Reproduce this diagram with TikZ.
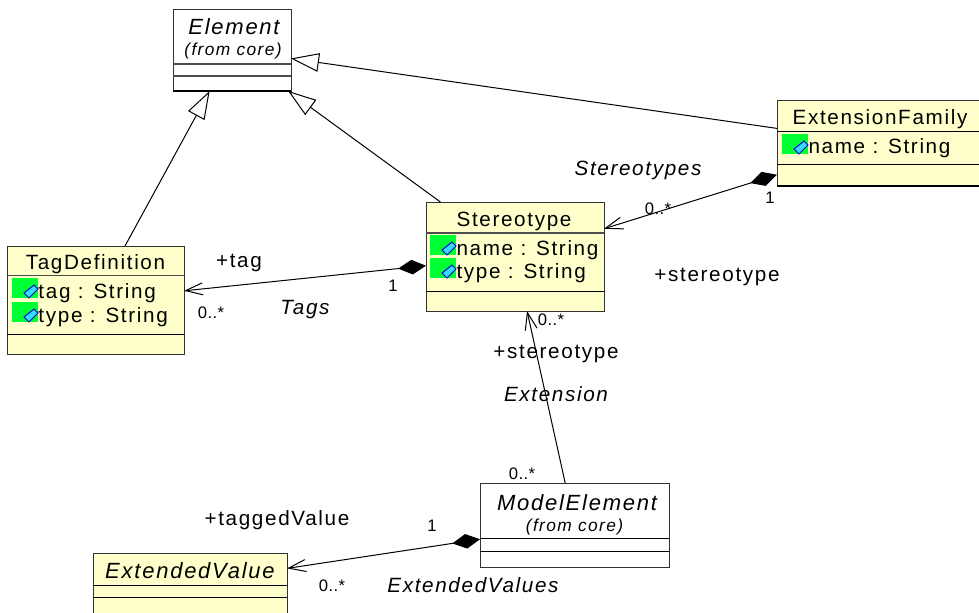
\documentclass[tikz,border=0pt]{standalone}
\usepackage{fontspec}
\setmainfont[LetterSpace=8]{Liberation Sans}
\usetikzlibrary{arrows.meta}
\definecolor{classfill}{HTML}{FFFFCC}
\definecolor{attrgreen}{HTML}{00FF33}
\definecolor{attrblue}{HTML}{33DDFF}
\begin{document}
\begin{tikzpicture}[x=0.75pt,y=-0.75pt,line width=0.75pt,
    classbox/.style = {draw=black!80, fill=classfill, rectangle, outer sep=0pt, inner sep=0pt},
    refbox/.style = {draw=black!80, fill=white, rectangle, outer sep=0pt, inner sep=0pt},
    classname/.style = {font=\fontsize{15.5}{17}\selectfont, inner sep=0pt},
    iname/.style = {font=\fontsize{15.5}{17}\selectfont\itshape, inner sep=0pt},
    iclass/.style = {font=\fontsize{16.5}{18}\selectfont\itshape, inner sep=0pt},
    fromname/.style = {font=\fontsize{13}{15}\selectfont\itshape, inner sep=0pt},
    attrtext/.style = {font=\fontsize{15.5}{17}\selectfont, inner sep=0pt, anchor=west},
    roletext/.style = {font=\fontsize{15.5}{17}\selectfont, inner sep=0pt},
    multtext/.style = {font=\addfontfeatures{LetterSpace=2}\fontsize{12.5}{14}\selectfont, inner sep=0pt},
    inherit/.style = {-{Triangle[open,length=21pt,width=14pt]}},
    compose/.style = {{Diamond[length=21pt,width=11pt]}-{Straight Barb[length=13pt,width=9pt]}},
    attricon/.pic = {
        \fill[attrgreen] (0,0) rectangle (26,20);
        \draw[blue!80!black,fill=attrblue,line width=0.75pt] (12,15) -- (22,7) -- (26,11) -- (17,20) -- cycle;
    }]
    \useasboundingbox (0,0) rectangle (979,612);

    % classes
    \node[refbox, minimum width=88.5pt, minimum height=61.5pt] (element) at (232,50) {};
    \node[classbox, minimum width=132.75pt, minimum height=81pt] (tagdef) at (95.5,300) {};
    \node[classbox, minimum width=133.5pt, minimum height=81.75pt] (stereotype) at (515,256.5) {};
    \node[classbox, minimum width=153pt, minimum height=64.5pt] (family) at (879,143) {};
    \node[refbox, minimum width=141.75pt, minimum height=63pt] (modelelement) at (574.5,525) {};
    \node[classbox, minimum width=145.5pt, minimum height=45pt] (extvalue) at (190,583) {};

    % compartments
    \draw[black!70,line width=1pt] (element.north west) ++(0,55) -- ++(118,0);
    \draw[black!70,line width=1pt] (element.north west) ++(0,67) -- ++(118,0);
    \draw[black,line width=1.5pt] (element.south west) -- (element.south east);
    \draw[black!70] (tagdef.north west) ++(0,29) -- ++(177,0);
    \draw (tagdef.north west) ++(0,88) -- ++(177,0);
    \draw[black!70,line width=1.2pt] (stereotype.north west) ++(0,31) -- ++(178,0);
    \draw (stereotype.north west) ++(0,89) -- ++(178,0);
    \draw (family.north west) ++(0,31) -- ++(204,0);
    \draw (family.north west) ++(0,64) -- ++(204,0);
    \draw[black,line width=1.5pt] (family.south west) -- (family.south east);
    \draw (modelelement.north west) ++(0,55) -- ++(189,0);
    \draw (modelelement.north west) ++(0,68) -- ++(189,0);
    \draw (extvalue.north west) ++(0,32) -- ++(194,0);
    \draw (extvalue.north west) ++(0,44) -- ++(194,0);

    % class names
    \node[iclass] (elementname) at (234,27) {Element};
    \node[fromname] (elementfrom) at (233,51) {(from core)};
    \node[classname] (tagdefname) at (95.5,264) {TagDefinition};
    \node[classname] (stereotypename) at (514,221) {Stereotype};
    \node[classname] (familyname) at (880,119) {ExtensionFamily};
    \node[iclass] (modelelementname) at (577,503) {ModelElement};
    \node[fromname] (modelelementfrom) at (574.5,527) {(from core)};
    \node[iclass] (extvaluename) at (190,571) {ExtendedValue};

    % attributes
    \pic at (12,278) {attricon};
    \pic at (12,302) {attricon};
    \pic at (430,235) {attricon};
    \pic at (430,258) {attricon};
    \pic at (782,134) {attricon};
    \node[attrtext] (tagattr) at (38,293) {tag : String};
    \node[attrtext] (typeattr) at (38,317) {type : String};
    \node[attrtext] (nameattr) at (456,250) {name : String};
    \node[attrtext] (typeattrb) at (456,273) {type : String};
    \node[attrtext] (nameattrb) at (808,148) {name : String};

    % connectors
    \draw[inherit] (tagdef) -- (element);
    \draw[inherit] (stereotype) -- (element);
    \draw[inherit] (family) -- (element);
    \draw[compose] (stereotype) -- (tagdef);
    \draw[compose] (family) -- (stereotype);
    \draw[compose] (modelelement) -- (extvalue);
    \draw[-{Straight Barb[length=13pt,width=9pt]}] (modelelement) -- (stereotype);

    % labels
    \node[iname] (stereotypes) at (638,170) {Stereotypes};
    \node[multtext] (m1) at (658,209) {0..*};
    \node[multtext] (o1) at (770,198) {1};
    \node[roletext] (r1) at (717,277) {+stereotype};
    \node[roletext] (r2) at (239,263) {+tag};
    \node[iname] (tags) at (305,310) {Tags};
    \node[multtext] (o2) at (393,286) {1};
    \node[multtext] (m2) at (211,313) {0..*};
    \node[multtext] (m3) at (551,320) {0..*};
    \node[roletext] (r3) at (556,354) {+stereotype};
    \node[iname] (extension) at (556,394) {Extension};
    \node[multtext] (m4) at (522,474) {0..*};
    \node[roletext] (r4) at (277,520) {+taggedValue};
    \node[multtext] (o3) at (432,526) {1};
    \node[multtext] (m5) at (332,586) {0..*};
    \node[iname] (extendedvalues) at (473,585) {ExtendedValues};
\end{tikzpicture}
\end{document}
